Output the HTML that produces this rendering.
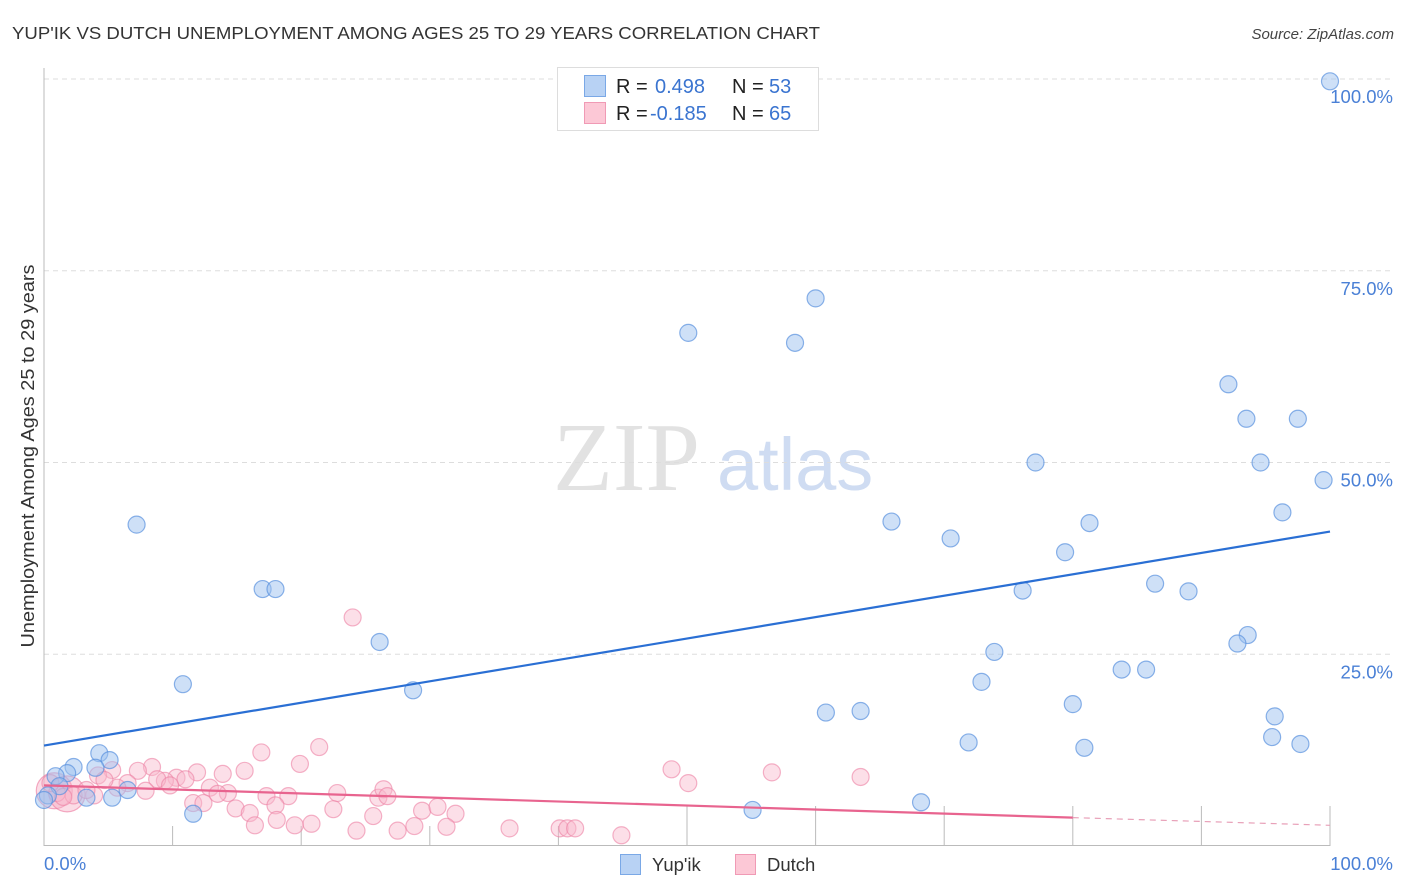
<!DOCTYPE html>
<html><head><meta charset="utf-8"><style>
html,body{margin:0;padding:0;background:#fff;}
svg{display:block;font-family:"Liberation Sans",sans-serif;}
</style></head><body>
<svg id="chart" width="1406" height="892" viewBox="0 0 1406 892" xmlns="http://www.w3.org/2000/svg">
<text x="12" y="39" font-size="17.5" fill="#333" textLength="808" lengthAdjust="spacingAndGlyphs">YUP'IK VS DUTCH UNEMPLOYMENT AMONG AGES 25 TO 29 YEARS CORRELATION CHART</text>
<text x="1394" y="39" font-size="15" font-style="italic" fill="#444" text-anchor="end">Source: ZipAtlas.com</text>
<g>
<text x="553" y="490" font-size="98" font-family="Liberation Serif,serif" fill="#e2e2e2">ZIP</text>
<text x="717" y="490" font-size="74" fill="#cfdcf2">atlas</text>
</g>
<g id="grid"></g>
<g id="axes"></g>
<g id="lines"></g>
<g id="points"></g>
<text transform="translate(34,456) rotate(-90)" font-size="18.5" fill="#333" text-anchor="middle" textLength="383" lengthAdjust="spacingAndGlyphs">Unemployment Among Ages 25 to 29 years</text>
<g>
<rect x="557.5" y="67.5" width="261" height="63" fill="#fff" stroke="#ddd"/>
<rect x="584.5" y="75.5" width="21" height="21" fill="#b8d2f4" stroke="#7aa8e6"/>
<rect x="584.5" y="102.5" width="21" height="21" fill="#fcc8d6" stroke="#f09ab5"/>
<text x="616" y="93" font-size="20" fill="#222">R =</text>
<text x="655" y="93" font-size="20" fill="#3a74d0">0.498</text>
<text x="732" y="93" font-size="20" fill="#222">N =</text>
<text x="769" y="93" font-size="20" fill="#3a74d0">53</text>
<text x="616" y="120" font-size="20" fill="#222">R =</text>
<text x="650" y="120" font-size="20" fill="#3a74d0">-0.185</text>
<text x="732" y="120" font-size="20" fill="#222">N =</text>
<text x="769" y="120" font-size="20" fill="#3a74d0">65</text>
</g>
<g>
<rect x="620.5" y="854.5" width="20" height="20" fill="#b8d2f4" stroke="#7aa8e6"/>
<text x="652" y="871" font-size="18.5" fill="#333">Yup'ik</text>
<rect x="735.5" y="854.5" width="20" height="20" fill="#fcc8d6" stroke="#f09ab5"/>
<text x="767" y="871" font-size="18.5" fill="#333">Dutch</text>
</g>
<script>
var yTicks=[25,50,75,100];
var yTickLabels=["25.0%","50.0%","75.0%","100.0%"];
var xTickLabels=["0.0%","100.0%"];
var blueX=[100,60.0,50.1,58.4,92.1,93.5,97.5,77.1,94.6,99.5,96.3,65.9,81.3,7.2,70.5,79.4,86.4,17.0,18.0,76.1,89.0,26.1,93.6,92.8,73.9,83.8,85.7,10.8,72.9,28.7,80.0,60.8,63.5,95.7,95.5,97.7,71.9,80.9,68.2,55.1,11.6,4.3,5.1,2.3,4.0,1.8,0.9,5.3,3.3,6.5,1.2,0.3,0];
var blueY=[99.7,71.4,66.9,65.6,60.2,55.7,55.7,50.0,50.0,47.7,43.5,42.3,42.1,41.9,40.1,38.3,34.2,33.5,33.5,33.3,33.2,26.6,27.5,26.4,25.3,23.0,23.0,21.1,21.4,20.3,18.5,17.4,17.6,16.9,14.2,13.3,13.5,12.8,5.7,4.7,4.2,12.1,11.2,10.3,10.2,9.5,9.1,6.3,6.3,7.3,7.8,6.6,6.0];
var pinkX=[16.9,21.4,19.9,15.6,13.9,11.9,8.4,7.3,5.3,4.2,10.3,9.4,11.0,8.8,9.8,12.9,7.9,6.5,5.7,14.3,13.5,17.3,19.0,18.0,22.8,22.5,26.0,26.4,26.7,25.6,29.4,30.6,32.0,11.6,12.4,14.9,16.0,16.4,18.1,19.5,20.8,24.3,27.5,28.8,31.3,1.0,0.5,2.3,1.5,24.0,48.8,50.1,56.6,63.5,36.2,40.1,40.7,41.3,44.9,3.9,3.3,4.7];
var pinkY=[12.2,12.9,10.7,9.8,9.4,9.6,10.3,9.8,9.9,9.2,8.9,8.5,8.7,8.7,7.9,7.6,7.2,8.2,7.6,6.9,6.8,6.5,6.5,5.3,6.9,4.8,6.3,7.4,6.5,3.9,4.6,5.1,4.2,5.6,5.6,4.9,4.3,2.7,3.4,2.7,2.9,2.0,2.0,2.6,2.5,6.9,8.2,6.6,6.4,29.8,10.0,8.2,9.6,9.0,2.3,2.3,2.3,2.3,1.4,6.6,7.3,8.6];
var pinkBigX=[0.8,1.8];
var pinkBigY=[7.2,6.8];
var blueTrend=[[0,13.1],[100,41.0]];
var pinkTrendSolid=[[0,7.9],[80,3.7]];
var pinkTrendDash=[[80,3.7],[100,2.7]];

var NS="http://www.w3.org/2000/svg";
function sx(v){return 44+v*12.86;}
function sy(v){return 846-v*7.67;}
function mk(tag,attrs,parent){var e=document.createElementNS(NS,tag);for(var k in attrs)e.setAttribute(k,attrs[k]);parent.appendChild(e);return e;}
var grid=document.getElementById('grid'),axes=document.getElementById('axes'),lines=document.getElementById('lines'),pts=document.getElementById('points');
yTicks.forEach(function(t,i){
  var l=mk('line',{x1:44,x2:1393,y1:sy(t),y2:sy(t),stroke:'#ddd','stroke-dasharray':'5,4'},grid);
  
  
  var tx=mk('text',{x:1393,y:sy(t)+24,'font-size':18.5,fill:'#4a80d6','text-anchor':'end'},axes);
  tx.textContent=yTickLabels[i];
  
  
});
var ax=mk('line',{x1:44,x2:44,y1:68,y2:846,stroke:'#bbb'},axes);


var bx=mk('line',{x1:44,x2:1330,y1:845.5,y2:845.5,stroke:'#bbb'},axes);


for(var i=1;i<=10;i++){
  var t=mk('line',{x1:sx(i*10),x2:sx(i*10),y1:i<=4?826:806,y2:846,stroke:'#bbb'},axes);
  
  
}
var xl0=mk('text',{x:44,y:870,'font-size':18.5,fill:'#4a80d6'},axes);xl0.textContent=xTickLabels[0];


var xl1=mk('text',{x:1393,y:870,'font-size':18.5,fill:'#4a80d6','text-anchor':'end'},axes);xl1.textContent=xTickLabels[1];


function dot(x,y,r,fill,stroke,name){
  var c=mk('circle',{cx:sx(x),cy:sy(y),r:r,fill:fill,stroke:stroke,'stroke-width':1.2},pts);
  
  
}
pinkBigX.forEach(function(x,i){dot(x,pinkBigY[i],18,'rgba(246,168,192,0.4)','rgba(236,120,158,0.6)','dutch-point-large');});
pinkX.forEach(function(x,i){dot(x,pinkY[i],8.5,'rgba(248,184,204,0.45)','rgba(236,128,164,0.6)','dutch-point');});
blueX.forEach(function(x,i){dot(x,blueY[i],8.5,'rgba(158,194,240,0.5)','rgba(90,146,222,0.7)','yupik-point');});
function seg(p,stroke,dash,name){
  var l=mk('line',{x1:sx(p[0][0]),y1:sy(p[0][1]),x2:sx(p[1][0]),y2:sy(p[1][1]),stroke:stroke,'stroke-width':2.2},lines);
  if(dash){l.setAttribute('stroke-dasharray',dash);l.setAttribute('stroke-width',1.2);}
  
  
}
seg(blueTrend,'#2a6fd4',null,'yupik-trend-line');
seg(pinkTrendSolid,'#e8648f',null,'dutch-trend-line');
seg(pinkTrendDash,'#e8a0b8','6,5','dutch-trend-extension');
lines.parentNode.appendChild(lines);
</script>
</svg>
</body></html>
